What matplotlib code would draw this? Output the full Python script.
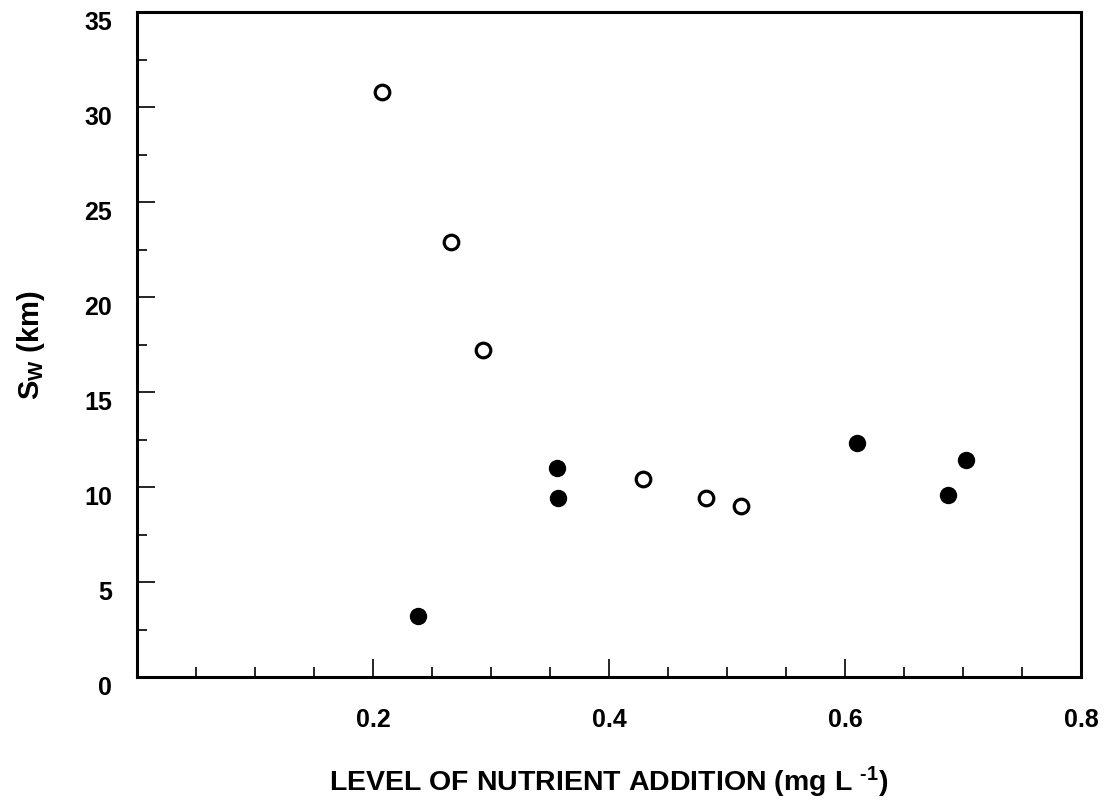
import numpy as np
import matplotlib
matplotlib.use("Agg")
import matplotlib.pyplot as plt
import matplotlib.transforms as mtrans
from matplotlib.ticker import MultipleLocator, FixedLocator

plt.rcParams["font.family"] = ["Liberation Sans", "DejaVu Sans"]
plt.rcParams["font.weight"] = "bold"
plt.rcParams["mathtext.fontset"] = "custom"
plt.rcParams["mathtext.rm"] = "Liberation Sans:bold"
plt.rcParams["mathtext.bf"] = "Liberation Sans:bold"
plt.rcParams["mathtext.default"] = "bf"

# open circles
open_x = [0.208, 0.266, 0.293, 0.429, 0.482, 0.512]
open_y = [30.8, 22.9, 17.2, 10.4, 9.4, 9.0]
# filled circles
fill_x = [0.238, 0.356, 0.357, 0.610, 0.687, 0.703]
fill_y = [3.2, 11.0, 9.4, 12.3, 9.6, 11.4]

x_ticks = [0.2, 0.4, 0.6, 0.8]
y_ticks = [0, 5, 10, 15, 20, 25, 30, 35]

fig = plt.figure(figsize=(11.04, 8.06), dpi=100)
ax = fig.add_axes([0.1241, 0.160, 0.855, 0.825])

ax.plot(open_x, open_y, "o", ms=10.5, mfc="white", mec="black", mew=2.3, ls="none")
ax.plot(fill_x, fill_y, "o", ms=11.5, mfc="black", mec="black", ls="none")

ax.set_xlim(0, 0.8)
ax.set_ylim(0, 35)
ax.xaxis.set_major_locator(FixedLocator(x_ticks))
ax.xaxis.set_minor_locator(MultipleLocator(0.05))
ax.yaxis.set_major_locator(FixedLocator(y_ticks))
ax.yaxis.set_minor_locator(MultipleLocator(2.5))
ax.set_xticklabels([f"{v:.1f}" for v in x_ticks])
ax.set_yticklabels([str(v) for v in y_ticks])

for s in ax.spines.values():
    s.set_linewidth(2.2)
ax.tick_params(which="both", direction="in", top=False, right=False, width=1.2)
ax.tick_params(which="major", length=13, labelsize=18)
ax.tick_params(axis="x", which="major", pad=22)
ax.tick_params(axis="y", which="major", pad=18)
ax.tick_params(which="minor", length=7)
# y tick labels sit a little below their ticks in the original
shift = mtrans.ScaledTranslation(0, -8 / 100, fig.dpi_scale_trans)
for lab in ax.get_yticklabels():
    lab.set_transform(lab.get_transform() + shift)
for lab in ax.get_xticklabels() + ax.get_yticklabels():
    lab.set_fontweight("bold")

ax.set_xlabel("LEVEL OF NUTRIENT ADDITION (mg L $^{\\text{-1}}$)", fontsize=20.5,
              fontweight="bold", labelpad=24)
ax.set_ylabel("S$_{W}$ (km)", fontsize=21, fontweight="bold", labelpad=27)

fig.savefig("out.png", dpi=100)
